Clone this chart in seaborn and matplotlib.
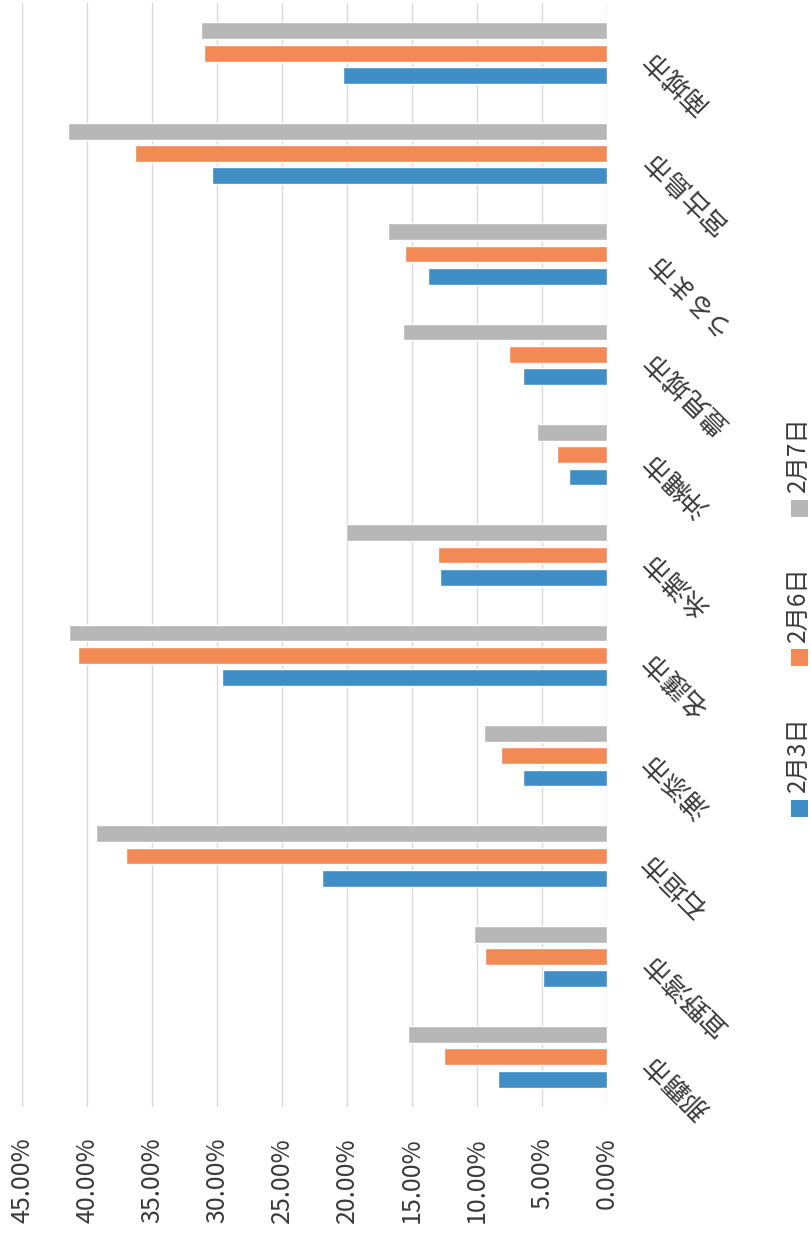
import matplotlib
matplotlib.use('Agg')
import matplotlib.pyplot as plt
import seaborn as sns
import pandas as pd
from matplotlib.patches import Rectangle
from matplotlib.ticker import FuncFormatter, MultipleLocator

# %%
cities = ['那覇市', '宜野湾市', '石垣市', '浦添市', '名護市', '糸満市',
          '沖縄市', '豊見城市', 'うるま市', '宮古島市', '南城市']
dates = ['2月3日', '2月6日', '2月7日']
feb3 = [8.36, 4.90, 21.93, 6.43, 29.60, 12.88, 2.95, 6.46, 13.73, 30.39, 20.28]
feb6 = [12.53, 9.37, 37.00, 8.13, 40.68, 13.03, 3.87, 7.55, 15.56, 36.30, 31.00]
feb7 = [15.30, 10.22, 39.34, 9.47, 41.35, 20.04, 5.39, 15.71, 16.87, 41.47, 31.24]
colors = ['#3F8EC6', '#F28A55', '#B7B7B7']

# %%
df = pd.DataFrame({
    'city': cities * 3,
    'date': [d for d in dates for _ in cities],
    'rate': feb3 + feb6 + feb7,
})

sns.set_style('white')
plt.rcParams['font.family'] = ['Noto Sans CJK JP', 'DejaVu Sans']
txt_color = '#3A3A3A'

fig = plt.figure(figsize=(8.12, 12.35), dpi=100)
ax = fig.add_axes([0.0271, 0.1036, 0.7204, 0.894])

sns.barplot(data=df, y='city', x='rate', hue='date', order=cities,
            hue_order=dates, palette=colors, orient='h', width=0.667,
            gap=0.25, saturation=1, legend=False, ax=ax)

# chart is turned on its side: 0% on the right, 那覇市 at the bottom
ax.set_ylim(-0.5, len(cities) - 0.5)
ax.set_xlim(45, 0)
ax.xaxis.set_major_locator(MultipleLocator(5))
ax.xaxis.set_major_formatter(FuncFormatter(lambda v, p: '{:.2f}%'.format(v)))
ax.grid(axis='x', color='#D9D9D9', lw=1)
ax.grid(axis='y', visible=False)
ax.set_axisbelow(True)
for s in ax.spines.values():
    s.set_visible(False)
ax.set_xlabel('')
ax.set_ylabel('')

ax.yaxis.tick_right()
ax.tick_params(axis='y', length=0, pad=29.5, labelsize=19, labelcolor=txt_color)
ax.tick_params(axis='x', length=0, pad=22, labelsize=18, labelcolor=txt_color)
for lbl in ax.get_yticklabels():
    lbl.set_rotation(135)
    lbl.set_rotation_mode('anchor')
    lbl.set_ha('right')
    lbl.set_va('center')
for lbl in ax.get_xticklabels():
    lbl.set_rotation(90)
    lbl.set_ha('center')
    lbl.set_va('top')

# legend, rotated like the rest
W, H = 812, 1235
for i, (d, c) in enumerate(zip(dates, colors)):
    sq_y = 808 - 150 * i
    fig.patches.append(Rectangle(((800 - 8.5) / W, 1 - (sq_y + 8.5) / H), 17 / W, 17 / H,
                                 transform=fig.transFigure, color=c, lw=0))
    fig.text(798 / W, 1 - (sq_y - 16) / H, d, rotation=90, ha='center', va='bottom',
             fontsize=17.5, color=txt_color)

fig.savefig('out.png', dpi=100)
